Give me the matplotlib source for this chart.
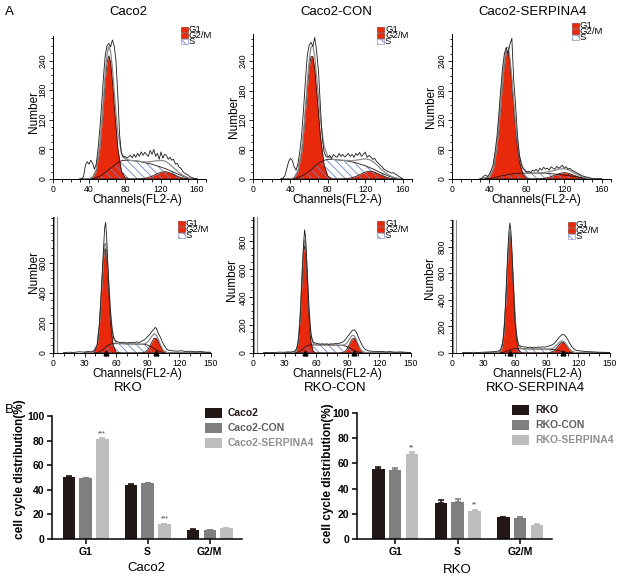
import numpy as np
import matplotlib.pyplot as plt
from matplotlib.patches import Rectangle
from matplotlib.ticker import MultipleLocator

plt.rcParams['font.family'] = ['Liberation Sans', 'DejaVu Sans']
plt.rcParams['hatch.linewidth'] = 0.6

RED = '#e8290b'
HATCH = '#6d80c6'
BAR_COLORS = ['#231815', '#7f7f7f', '#bdbdbd']
TEXT_COLORS = ['#231815', '#606060', '#909090']

# ---------------- A: DNA histograms (channel vs. number of cells) ----------------
# Caco2 row, model components on one channel grid
caco2_cx = [30, 40, 44, 48, 52, 55, 58, 60, 62, 64, 66, 69, 72, 76, 80, 85, 90, 95,
            100, 105, 110, 115, 120, 125, 130, 135, 140, 145, 150, 155, 160]

caco2_g1 = [0, 0, 3, 16, 62, 127, 200, 236, 250, 236, 200, 127, 62, 16, 3,
            0, 0, 0, 0, 0, 0, 0, 0, 0, 0, 0, 0, 0, 0, 0, 0]
caco2_s = [0, 0, 1, 3, 6, 9, 13, 16, 19, 22, 25, 29, 33, 37, 38,
           38, 37, 36, 34, 32, 30, 27, 24, 21, 17, 13, 9, 5, 2, 0, 0]
caco2_g2m = [0, 0, 0, 0, 0, 0, 0, 0, 0, 0, 0, 0, 0, 0, 0, 0, 0,
             0.2, 0.8, 2.5, 5.6, 10, 13.8, 14.9, 12.5, 8.2, 4.2, 1.7, 0.5, 0, 0]

caco2con_g1 = [0, 0, 2, 14, 52, 110, 182, 224, 249, 249, 224, 158, 88, 28, 6,
               0, 0, 0, 0, 0, 0, 0, 0, 0, 0, 0, 0, 0, 0, 0, 0]
caco2con_s = [0, 0, 1, 3, 6, 9, 13, 16, 19, 22, 26, 30, 34, 38, 40,
              40, 39, 38, 37, 35, 33, 30, 27, 23, 19, 14, 10, 6, 3, 1, 0]
caco2con_g2m = [0, 0, 0, 0, 0, 0, 0, 0, 0, 0, 0, 0, 0, 0, 0, 0, 0,
                0.2, 0.7, 2.2, 5.2, 9.7, 14.1, 16, 14.1, 9.7, 5.2, 2.2, 0.7, 0.2, 0]

caco2serp_g1 = [0, 4, 18, 63, 147, 217, 259, 259, 236, 195, 147, 80, 35, 9, 1,
                0, 0, 0, 0, 0, 0, 0, 0, 0, 0, 0, 0, 0, 0, 0, 0]
caco2serp_s = [0, 1, 2, 4, 6, 7, 8, 9, 10, 10, 11, 11, 12, 12, 12,
               12, 12, 12, 12, 11, 10, 9, 8, 7, 5, 4, 2, 1, 0, 0, 0]
caco2serp_g2m = [0, 0, 0, 0, 0, 0, 0, 0, 0, 0, 0, 0, 0, 0, 0, 0,
                 0.1, 0.6, 1.8, 4.2, 7.9, 11.4, 13, 11.4, 7.9, 4.2, 1.8, 0.6, 0.1, 0, 0]

# raw histogram outlines, channels 30..160 in steps of 2
caco2_ox = list(range(30, 161, 2))
caco2_oy = [0, 1, 5, 28, 35, 30, 38, 32, 20, 30,
            60, 100, 150, 205, 250, 270, 275, 268, 282, 270,
            240, 170, 90, 52, 44, 46, 42, 45, 48, 43,
            50, 44, 52, 46, 55, 48, 54, 50, 46, 58,
            50, 60, 46, 52, 40, 55, 42, 50, 48, 40,
            44, 38, 40, 30, 32, 24, 22, 16, 12, 10,
            8, 5, 3, 2, 1, 0]
caco2con_oy = [0, 2, 6, 20, 35, 42, 38, 25, 18, 30,
               55, 90, 140, 200, 250, 272, 278, 270, 288, 260,
               220, 150, 85, 55, 46, 44, 48, 42, 50, 46,
               44, 52, 46, 50, 45, 48, 52, 46, 50, 44,
               52, 48, 54, 46, 50, 55, 44, 48, 45, 40,
               42, 36, 32, 28, 25, 20, 18, 15, 14, 12,
               13, 10, 8, 5, 3, 0]
caco2serp_oy = [0, 2, 6, 8, 5, 10, 18, 30, 55, 85,
                130, 180, 225, 255, 267, 255, 275, 286, 200, 150,
                90, 50, 30, 22, 18, 14, 16, 13, 18, 16,
                20, 15, 22, 18, 24, 20, 22, 18, 25, 22,
                20, 26, 22, 24, 28, 22, 25, 20, 22, 18,
                16, 14, 12, 10, 8, 6, 5, 4, 3, 2,
                1, 0, 0, 0, 0, 0]

# RKO row
rko_cx = [30, 38, 42, 44, 46, 47, 48, 49, 50, 51, 52, 53, 55, 57, 60, 65, 70, 75, 80,
          85, 88, 90, 92, 94, 96, 98, 100, 102, 104, 106, 110, 115, 150]
rko_g1 = [0, 2, 53, 175, 399, 525, 631, 692, 692, 631, 525, 399, 175, 53, 4,
          0, 0, 0, 0, 0, 0, 0, 0, 0, 0, 0, 0, 0, 0, 0, 0, 0, 0]
rko_s = [0, 0, 3, 8, 15, 20, 26, 32, 38, 44, 50, 54, 60, 62, 62, 62, 61, 60, 60,
         58, 56, 52, 46, 38, 30, 22, 15, 9, 4, 1, 0, 0, 0]
rko_g2m = [0, 0, 0, 0, 0, 0, 0, 0, 0, 0, 0, 0, 0, 0, 0, 0, 0, 0, 0,
           1, 8, 22, 46, 75, 97, 97, 75, 46, 22, 8, 0, 0, 0]

rkocon_cx = [30, 38, 41, 43, 45, 46, 47, 48, 49, 50, 51, 52, 53, 55, 57, 60, 65, 70, 75,
             80, 84, 86, 88, 90, 92, 94, 96, 98, 100, 102, 104, 108, 112, 150]
rkocon_g1 = [0, 0, 13, 77, 277, 434, 597, 722, 770, 722, 597, 434, 277, 77, 13, 0,
             0, 0, 0, 0, 0, 0, 0, 0, 0, 0, 0, 0, 0, 0, 0, 0, 0, 0]
rkocon_s = [0, 0, 2, 6, 14, 20, 27, 34, 40, 46, 50, 54, 56, 58, 58, 58, 58, 57, 57,
            56, 55, 53, 49, 43, 35, 27, 19, 12, 7, 3, 1, 0, 0, 0]
rkocon_g2m = [0, 0, 0, 0, 0, 0, 0, 0, 0, 0, 0, 0, 0, 0, 0, 0, 0, 0, 0, 0,
              1, 5, 15, 38, 70, 99, 106, 86, 53, 25, 9, 0, 0, 0]

rkoserp_cx = [30, 44, 47, 49, 51, 52, 53, 54, 55, 56, 57, 58, 59, 61, 63, 66, 70, 75,
              80, 85, 90, 93, 96, 98, 100, 102, 104, 106, 108, 110, 112, 114, 118, 122, 150]
rkoserp_g1 = [0, 1, 25, 120, 366, 540, 712, 842, 890, 842, 712, 540, 366, 120, 25, 1,
              0, 0, 0, 0, 0, 0, 0, 0, 0, 0, 0, 0, 0, 0, 0, 0, 0, 0, 0]
rkoserp_s = [0, 0, 2, 5, 10, 13, 16, 20, 23, 26, 28, 30, 31, 32, 32, 32, 31, 31,
             30, 30, 29, 28, 26, 24, 21, 17, 13, 9, 6, 3, 1, 0, 0, 0, 0]
rkoserp_g2m = [0, 0, 0, 0, 0, 0, 0, 0, 0, 0, 0, 0, 0, 0, 0, 0, 0, 0, 0, 0, 0,
               2, 11, 24, 44, 65, 79, 79, 65, 44, 24, 11, 1, 0, 0]

rko_ox = [10, 15, 20, 25, 30, 33, 36, 38, 40, 42, 44, 45, 46, 47, 48, 49, 50, 51, 52, 53,
          54, 55, 56, 57, 58, 60, 62, 64, 66, 68, 70, 72, 74, 76, 78, 80, 82, 84, 86, 88,
          90, 92, 94, 96, 97, 98, 99, 100, 102, 104, 106, 108, 110, 114, 118, 122, 126,
          130, 135, 140, 145, 150]
rko_oy = [3, 5, 4, 8, 6, 10, 8, 12, 20, 55, 185, 300, 430, 560, 700, 830, 870, 760, 600, 460,
          330, 240, 160, 120, 90, 78, 72, 70, 68, 72, 66, 70, 68, 72, 70, 74, 70, 78, 85, 95,
          110, 125, 145, 160, 170, 165, 150, 130, 105, 70, 45, 25, 18, 14, 12, 15, 10,
          12, 8, 10, 6, 5]
rkocon_oy = [3, 4, 3, 6, 5, 8, 7, 10, 15, 40, 150, 290, 450, 620, 780, 883, 820, 660, 500, 340,
             220, 140, 100, 80, 74, 70, 66, 64, 66, 63, 66, 62, 66, 64, 68, 66, 70, 74, 82, 100,
             120, 140, 160, 167, 160, 150, 135, 115, 80, 50, 30, 20, 15, 12, 10, 12, 8,
             10, 6, 8, 5, 4]
rkoserp_ox = [10, 15, 20, 25, 30, 35, 40, 44, 46, 48, 49, 50, 51, 52, 53, 54, 55, 56, 57, 58,
              59, 60, 61, 62, 63, 64, 66, 68, 70, 72, 74, 76, 78, 80, 82, 84, 86, 88, 90, 92,
              94, 96, 98, 100, 102, 104, 105, 106, 108, 110, 112, 114, 116, 118, 122, 126,
              130, 135, 140, 145, 150]
rkoserp_oy = [3, 4, 5, 4, 6, 8, 10, 14, 25, 70, 140, 230, 400, 580, 760, 910, 978, 910, 740, 560,
              380, 220, 160, 100, 65, 55, 50, 46, 44, 42, 45, 40, 44, 42, 45, 43, 46, 44, 48, 52,
              58, 66, 80, 100, 120, 135, 140, 138, 125, 100, 70, 45, 28, 20, 15, 12,
              10, 8, 6, 5, 4]

rko_gate = [1.2, 3.8]
rko_peaks = [50, 98]
rkocon_peaks = [49, 96]
rkoserp_peaks = [55, 105]

# ---------------- B: cell cycle distribution (%) ----------------
phases = ['G1', 'S', 'G2/M']
caco2_groups = ['Caco2', 'Caco2-CON', 'Caco2-SERPINA4']
caco2_mean = [[50.4, 44.2, 7.6], [49.6, 45.5, 7.0], [81.3, 11.9, 8.9]]
caco2_err = [[0.5, 0.4, 0.3], [0.4, 0.4, 0.3], [0.6, 0.5, 0.3]]
caco2_stars = ['***', '***', '']
rko_groups = ['RKO', 'RKO-CON', 'RKO-SERPINA4']
rko_mean = [[55.4, 28.9, 17.2], [54.9, 29.7, 16.7], [67.8, 22.3, 11.4]]
rko_err = [[2.0, 2.4, 0.5], [1.8, 2.1, 0.5], [1.0, 0.8, 0.8]]
rko_stars = ['**', '**', '']

W, H = 618, 579
fig = plt.figure(figsize=(W / 100, H / 100), dpi=100)


def px_axes(left, top, right, bottom):
    return fig.add_axes([left / W, 1 - bottom / H, (right - left) / W, (bottom - top) / H])


def ftext(x, y, s, **kw):
    fig.text(x / W, 1 - y / H, s, **kw)


def hist_panel(box, xlim, ylim, cx, g1, s, g2m, ox, oy, xticks, yticks, xminor, yminor,
               xticklabels=None, gate=None, peaks=None):
    ax = px_axes(*box)
    g1, s, g2m = np.asarray(g1, float), np.asarray(s, float), np.asarray(g2m, float)
    ax.fill_between(cx, g1, color=RED, lw=0, zorder=1)
    ax.fill_between(cx, g2m, color=RED, lw=0, zorder=1)
    ax.fill_between(cx, s, facecolor='none', edgecolor=HATCH, hatch='\\\\\\\\', lw=0, zorder=2)
    for comp in (g1, s, g2m):
        ax.plot(cx, comp, color='#2a1510', lw=0.6, zorder=3)
    ax.plot(cx, g1 + s + g2m, color='#8a8a8a', lw=0.9, zorder=3)
    ax.plot(ox, oy, color='#1a1a1a', lw=0.6, zorder=4)
    if gate:
        for g in gate:
            ax.axvline(g, color='#8c8c8c', lw=0.8)
    if peaks:
        ax.plot(peaks, [0] * len(peaks), '^', color='black', ms=3.5, clip_on=False, zorder=5)
    ax.set_xlim(*xlim)
    ax.set_ylim(*ylim)
    ax.set_xticks(xticks)
    if xticklabels:
        ax.set_xticklabels(xticklabels)
    ax.set_yticks(yticks)
    ax.xaxis.set_minor_locator(MultipleLocator(xminor))
    ax.yaxis.set_minor_locator(MultipleLocator(yminor))
    for sp in ('top', 'right'):
        ax.spines[sp].set_visible(False)
    for sp in ('left', 'bottom'):
        ax.spines[sp].set_linewidth(0.7)
    ax.tick_params(which='both', direction='out', width=0.6, labelsize=6.2, pad=1)
    ax.tick_params(which='major', length=3)
    ax.tick_params(which='minor', length=1.8)
    for lab in ax.get_yticklabels():
        lab.set_rotation(90)
        lab.set_va('center')
    return ax


def hist_legend(x, y):
    rows = [('G1', RED, None), ('G2/M', RED, None), ('S', 'white', '\\\\\\\\')]
    for i, (lab, fc, hatch) in enumerate(rows):
        yy = y + i * 6
        fig.add_artist(Rectangle((x / W, 1 - (yy + 5) / H), 7 / W, 5 / H,
                                 transform=fig.transFigure, facecolor=fc,
                                 edgecolor=HATCH if hatch else '#8a1a08', hatch=hatch, lw=0.4))
        ftext(x + 8, yy + 2.5, lab, fontsize=6.8, va='center', ha='left')


# top row: Caco2
hist_panel((53, 36, 206, 179), (0, 170), (0, 290), caco2_cx, caco2_g1, caco2_s, caco2_g2m,
           caco2_ox, caco2_oy, [0, 40, 80, 120, 160], [0, 60, 120, 180, 240], 10, 15)
hist_panel((253, 34, 412, 179), (0, 170), (0, 295), caco2_cx, caco2con_g1, caco2con_s,
           caco2con_g2m, caco2_ox, caco2con_oy, [0, 40, 80, 120, 160],
           [0, 60, 120, 180, 240], 10, 15)
hist_panel((452, 34, 611, 179), (0, 170), (0, 295), caco2_cx, caco2serp_g1, caco2serp_s,
           caco2serp_g2m, caco2_ox, caco2serp_oy, [0, 40, 80, 120, 160],
           [0, 60, 120, 180, 240], 10, 15, xticklabels=['0', '40', '60', '120', '160'])

# bottom row: RKO
hist_panel((53, 217, 211, 353), (0, 150), (0, 905), rko_cx, rko_g1, rko_s, rko_g2m,
           rko_ox, rko_oy, [0, 30, 60, 90, 120, 150], [0, 200, 400, 600], 10, 50,
           gate=rko_gate, peaks=rko_peaks)
hist_panel((253, 217, 411, 353), (0, 150), (0, 975), rkocon_cx, rkocon_g1, rkocon_s,
           rkocon_g2m, rko_ox, rkocon_oy, [0, 30, 60, 90, 120, 150],
           [0, 200, 400, 600, 800], 10, 50, gate=rko_gate, peaks=rkocon_peaks)
hist_panel((452, 220, 610, 353), (0, 150), (0, 1000), rkoserp_cx, rkoserp_g1, rkoserp_s,
           rkoserp_g2m, rkoserp_ox, rkoserp_oy, [0, 30, 60, 90, 120, 150],
           [0, 200, 400, 600, 800], 10, 50, gate=rko_gate, peaks=rkoserp_peaks)

for lx, ly in [(181, 27), (377, 27), (572, 23), (178, 221), (377, 221), (568, 222)]:
    hist_legend(lx, ly)

for x, t in [(128, 'Caco2'), (336, 'Caco2-CON'), (533, 'Caco2-SERPINA4')]:
    ftext(x, 12, t, fontsize=9.5, ha='center', va='center')
for x, t in [(128, 'RKO'), (335, 'RKO-CON'), (535, 'RKO-SERPINA4')]:
    ftext(x, 388, t, fontsize=9.5, ha='center', va='center')
for x, y in [(137, 200), (337, 200), (536, 200), (137, 374), (337, 374), (537, 374)]:
    ftext(x, y, 'Channels(FL2-A)', fontsize=8.5, ha='center', va='center')
for x, y in [(34, 112), (234, 117), (431, 107), (34, 272), (232, 280), (430, 278)]:
    ftext(x, y, 'Number', fontsize=8.5, ha='center', va='center', rotation=90)

ftext(9, 12, 'A', fontsize=9.5, ha='center', va='center')
ftext(9, 410, 'B', fontsize=9.5, ha='center', va='center')


# ---------------- bar charts ----------------
def bar_panel(box, xlim, means, errs, groups, stars, xlabel, xlabel_xy, ylabel_xy, leg_xy):
    ax = px_axes(*box)
    x = np.arange(len(phases))
    offsets = [-0.27, 0, 0.27]
    for i in range(3):
        ax.bar(x + offsets[i], means[i], width=0.2, color=BAR_COLORS[i], zorder=2)
        ax.errorbar(x + offsets[i], means[i], yerr=[np.zeros(3), errs[i]], fmt='none',
                    ecolor=BAR_COLORS[i], elinewidth=1.2, capsize=2.5, capthick=1.2, zorder=1)
    for j, st in enumerate(stars):
        if st:
            ax.text(x[j] + offsets[2], means[2][j] + errs[2][j] + 0.8, st, ha='center',
                    va='bottom', fontsize=5, color='#444444')
    ax.set_xlim(*xlim)
    ax.set_ylim(0, 100)
    ax.set_xticks(x)
    ax.set_xticklabels(phases, fontweight='bold')
    ax.set_yticks([0, 20, 40, 60, 80, 100])
    for lab in ax.get_yticklabels():
        lab.set_fontweight('bold')
    for sp in ('top', 'right'):
        ax.spines[sp].set_visible(False)
    for sp in ('left', 'bottom'):
        ax.spines[sp].set_linewidth(1.1)
    ax.tick_params(direction='out', length=3.5, width=1.1, labelsize=7.5, pad=2)
    ftext(*xlabel_xy, xlabel, fontsize=9.5, ha='center', va='center')
    ftext(*ylabel_xy, 'cell cycle distribution(%)', fontsize=8.5, fontweight='bold',
          rotation=90, ha='center', va='center')
    lx, ly = leg_xy
    for i, g in enumerate(groups):
        yy = ly + i * 15
        fig.add_artist(Rectangle((lx / W, 1 - (yy + 5) / H), 17 / W, 10 / H,
                                 transform=fig.transFigure, facecolor=BAR_COLORS[i], lw=0))
        ftext(lx + 23, yy, g, fontsize=7.5, fontweight='bold', color=TEXT_COLORS[i],
              ha='left', va='center')


bar_panel((52, 416, 242, 539), (-0.54, 2.52), caco2_mean, caco2_err, caco2_groups,
          caco2_stars, 'Caco2', (146, 568), (20, 469), (205, 413))
bar_panel((357, 413, 552, 539), (-0.61, 2.51), rko_mean, rko_err, rko_groups,
          rko_stars, 'RKO', (457, 570), (328, 473), (512, 410))

fig.savefig('out.png', dpi=100)
